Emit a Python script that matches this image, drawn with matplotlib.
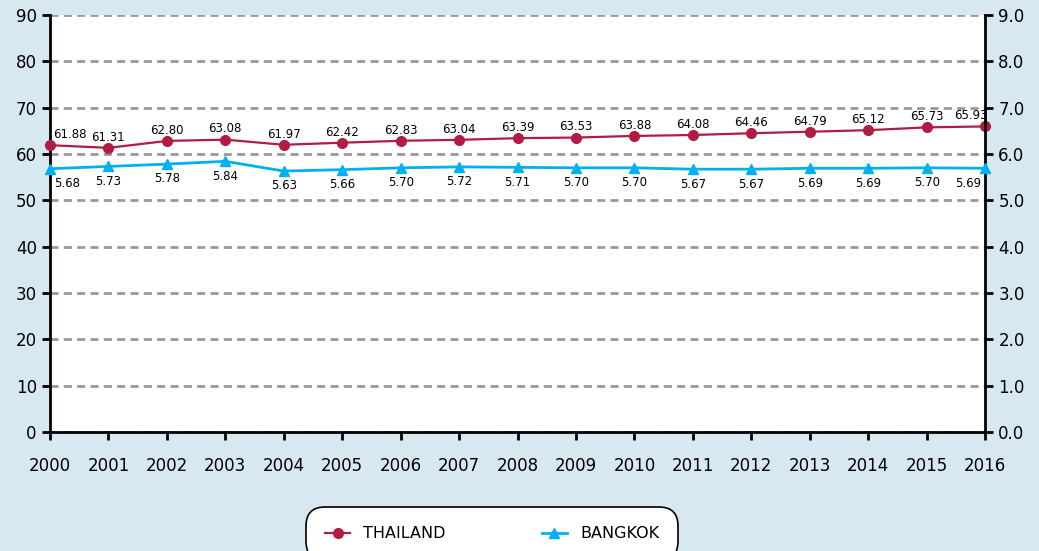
import matplotlib.pyplot as plt
from matplotlib.ticker import MultipleLocator

years = list(range(2000, 2017))
thailand = [61.88, 61.31, 62.80, 63.08, 61.97, 62.42, 62.83, 63.04, 63.39,
            63.53, 63.88, 64.08, 64.46, 64.79, 65.12, 65.73, 65.93]
bangkok = [5.68, 5.73, 5.78, 5.84, 5.63, 5.66, 5.70, 5.72, 5.71,
           5.70, 5.70, 5.67, 5.67, 5.69, 5.69, 5.70, 5.69]

red = "#b01c44"
blue = "#00b0f0"
bg = "#d8e8f1"

plt.rcParams['font.family'] = ['DejaVu Sans']

fig = plt.figure(figsize=(10.39, 5.51), dpi=100)
fig.patch.set_facecolor(bg)
ax = fig.add_axes([0.0481, 0.216, 0.9, 0.757])
ax2 = ax.twinx()

ax.set_facecolor("white")
ax.set_xlim(2000, 2016)
ax.set_ylim(0, 90)
ax2.set_ylim(0, 9)
ax.yaxis.set_major_locator(MultipleLocator(10))
ax2.yaxis.set_major_locator(MultipleLocator(1))
ax.set_xticks(years)
ax.set_xticklabels([str(y) for y in years])

ax.grid(axis="y", color="#999999", linestyle=(0, (2.9, 1.9)), linewidth=2)
ax.set_axisbelow(True)

ax.spines["top"].set_visible(False)
ax2.spines["top"].set_visible(False)
ax.spines["right"].set_visible(False)
ax2.spines["left"].set_visible(False)
ax2.spines["bottom"].set_visible(False)
for sp in [ax.spines["left"], ax.spines["bottom"], ax2.spines["right"]]:
    sp.set_linewidth(2)
    sp.set_color("black")

ax.tick_params(axis="both", labelsize=12, width=2, length=6, colors="black")
ax.tick_params(axis="x", pad=12)
ax2.tick_params(axis="y", labelsize=12, width=2, length=6)
ax2.set_yticklabels([f"{v:.1f}" for v in ax2.get_yticks()])

l1, = ax.plot(years, thailand, color=red, marker="o", markersize=7, linewidth=1.6,
              label="THAILAND", clip_on=False, zorder=5)
l2, = ax2.plot(years, bangkok, color=blue, marker="^", markersize=7, linewidth=2,
               label="BANGKOK", clip_on=False, zorder=5)

for i, (x, v) in enumerate(zip(years, thailand)):
    dx = 14 if i == 0 else (-10 if i == len(years) - 1 else 0)
    ax.annotate(f"{v:.2f}", (x, v), xytext=(dx, 3), textcoords="offset points",
                ha="center", va="bottom", fontsize=8.5)
for i, (x, v) in enumerate(zip(years, bangkok)):
    dx = 12 if i == 0 else (-12 if i == len(years) - 1 else 0)
    ax2.annotate(f"{v:.2f}", (x, v), xytext=(dx, -6), textcoords="offset points",
                 ha="center", va="top", fontsize=8.5)

leg = fig.legend(handles=[l1, l2], loc="upper center", bbox_to_anchor=(0.4735, 0.088),
                 ncol=2, frameon=True, fontsize=11.5, columnspacing=6,
                 handlelength=1.6, borderpad=1.0, fancybox=True, framealpha=1)
leg.get_frame().set_edgecolor("black")
leg.get_frame().set_facecolor("white")
leg.get_frame().set_linewidth(1.2)
leg.get_frame().set_boxstyle("round", pad=0.2, rounding_size=1.2)

fig.savefig("out.png", dpi=100, facecolor=bg)
